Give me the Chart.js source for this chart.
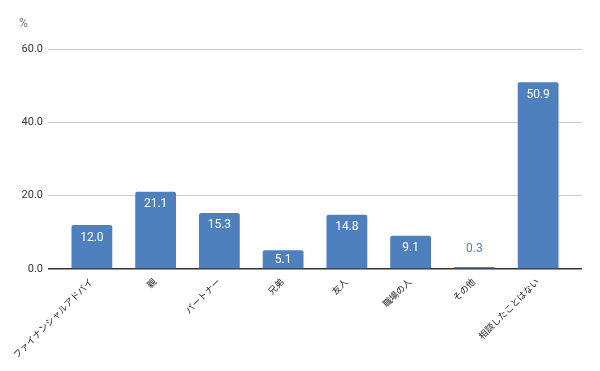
<!DOCTYPE html>
<html>
<head>
<meta charset="utf-8">
<script src="https://cdn.jsdelivr.net/npm/chart.js@4"></script>
<style>
  html, body { margin: 0; padding: 0; background: #fff; }
  #wrap { width: 600px; height: 371px; }
</style>
</head>
<body>
<div id="wrap"><canvas id="barChart"></canvas></div>
<script>
// data ----------------------------------------------------
const categories = ['ファイナンシャルアドバイ', '親', 'パートナー', '兄弟', '友人', '職場の人', 'その他', '相談したことはない'];
const values = [12.0, 21.1, 15.3, 5.1, 14.8, 9.1, 0.3, 50.9];
const yTicks = [0, 20, 40, 60];
const unitLabel = '%';

const barColor = '#4e80bd';
const fontFamily = "Roboto, 'Noto Sans CJK JP', sans-serif";

// value labels on the bars
const valueLabels = {
  id: 'valueLabels',
  afterDatasetsDraw(chart) {
    const ctx = chart.ctx;
    const meta = chart.getDatasetMeta(0);
    ctx.save();
    ctx.font = '12px ' + fontFamily;
    ctx.textAlign = 'center';
    ctx.textBaseline = 'middle';
    meta.data.forEach((bar, i) => {
      const top = bar.y;
      const bottom = bar.base;
      const txt = values[i].toFixed(1);
      if (bottom - top < 14) {
        ctx.fillStyle = barColor;
        ctx.fillText(txt, bar.x, top - 18);
      } else {
        ctx.fillStyle = '#ffffff';
        ctx.fillText(txt, bar.x, Math.min(top + 12.5, (top + bottom) / 2 + 1));
      }
    });
    ctx.restore();
  }
};

// unit label at the top left
const unitTitle = {
  id: 'unitTitle',
  afterDraw(chart) {
    const ctx = chart.ctx;
    ctx.save();
    ctx.font = '12px ' + fontFamily;
    ctx.fillStyle = '#777';
    ctx.textAlign = 'left';
    ctx.textBaseline = 'middle';
    ctx.fillText(unitLabel, 19, 24);
    ctx.restore();
  }
};

const gridColor = (c) => (c.tick && c.tick.value === 0) ? '#333333' : '#cccccc';
const gridWidth = (c) => (c.tick && c.tick.value === 0) ? 1.5 : 1;

const data = {
  labels: categories,
  datasets: [{
    data: values,
    backgroundColor: barColor,
    borderRadius: { topLeft: 2, topRight: 2 },
    borderSkipped: 'bottom',
    barPercentage: 0.64,
    categoryPercentage: 1.0,
    minBarLength: 2
  }]
};

const config = {
  type: 'bar',
  data,
  options: {
    responsive: true,
    maintainAspectRatio: false,
    animation: false,
    layout: { padding: { left: 0, right: 18, top: 49, bottom: 0 } },
    plugins: {
      legend: { display: false },
      tooltip: { enabled: false }
    },
    scales: {
      x: {
        grid: { display: false },
        border: { display: false },
        ticks: {
          color: '#222',
          font: { family: fontFamily, size: 9 },
          maxRotation: 45,
          minRotation: 45,
          autoSkip: false,
          padding: 0
        },
        afterFit(scale) { scale.height = 102; }
      },
      y: {
        min: 0,
        max: 60,
        afterBuildTicks(scale) { scale.ticks = yTicks.map(v => ({ value: v })); },
        grid: { color: gridColor, lineWidth: gridWidth, tickLength: 12 },
        border: { display: false },
        ticks: {
          color: '#333',
          font: { family: fontFamily, size: 11 },
          padding: 5,
          callback: (v) => Number(v).toFixed(1)
        },
        afterFit(scale) { scale.width = 60; }
      },
      y2: {
        position: 'right',
        min: 0,
        max: 60,
        afterBuildTicks(scale) { scale.ticks = yTicks.map(v => ({ value: v })); },
        grid: { color: gridColor, lineWidth: gridWidth, tickLength: 12, drawOnChartArea: false },
        border: { display: false },
        ticks: { display: false },
        afterFit(scale) { scale.width = 12; }
      }
    }
  },
  plugins: [valueLabels, unitTitle]
};

const barChart = new Chart(document.getElementById('barChart'), config);
</script>
</body>
</html>
